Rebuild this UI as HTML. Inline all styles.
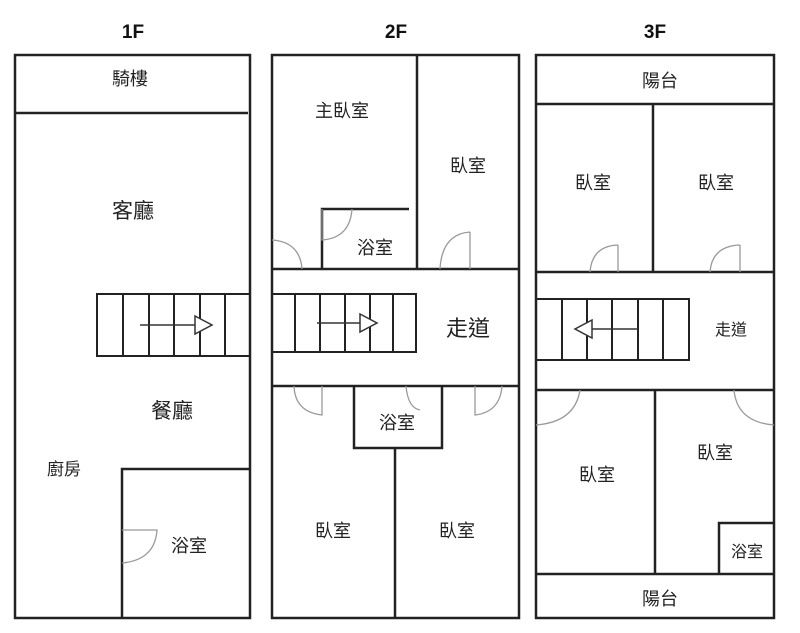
<!DOCTYPE html><html><head><meta charset="utf-8"><style>body{margin:0;background:#fff}svg{display:block}</style></head><body>
<svg width="800" height="633" viewBox="0 0 800 633" xmlns="http://www.w3.org/2000/svg" font-family="Liberation Sans, Noto Sans CJK TC, sans-serif">
<g font-weight="bold" font-size="19" text-anchor="middle" fill="#111">
<text x="133" y="38">1F</text><text x="396" y="38">2F</text><text x="655" y="38">3F</text></g>
<g stroke="#222" stroke-width="2.5" fill="none">
<!-- 1F -->
<rect x="15" y="55" width="235" height="563"/>
<line x1="15" y1="113" x2="248" y2="113"/>
<rect x="97" y="294" width="153" height="62" stroke-width="2"/>
<path d="M123 294V356M149 294V356M174 294V356M200 294V356M225 294V356" stroke-width="2"/>
<path d="M122 618V469H250"/>
<!-- 2F -->
<rect x="272" y="55" width="247" height="563"/>
<path d="M417 55V269M272 269H519M272 386H519"/>
<path d="M322 269V209H409"/>
<rect x="272" y="294" width="144" height="58" stroke-width="2"/>
<path d="M295 294V352M320 294V352M345 294V352M370 294V352M393 294V352" stroke-width="2"/>
<path d="M354 386V448H442V386M395 448V618"/>
<!-- 3F -->
<rect x="536" y="55" width="238" height="563"/>
<path d="M536 104H774M653 104V272M536 272H774M536 390H774M655 390V574M536 574H774"/>
<rect x="536" y="299" width="153" height="61" stroke-width="2"/>
<path d="M562 299V360M587 299V360M612 299V360M638 299V360M663 299V360" stroke-width="2"/>
<path d="M719 574V523H774"/>
</g>
<!-- arrows -->
<g stroke="#333" stroke-width="1.5" fill="#fff">
<path d="M140 325H195"/><path d="M195 316L212 325L195 334Z"/>
<path d="M317 323H360"/><path d="M360 314L377 323L360 332Z"/>
<path d="M638 329H592"/><path d="M592 320L575 329L592 338Z"/>
</g>
<!-- doors -->
<g stroke="#999" stroke-width="1.3" fill="none">
<path d="M122 530H157Q155 560 122 563"/>
<path d="M322 209V240Q350 238 352 209"/>
<path d="M272 240Q300 242 302 269"/>
<path d="M470 232V269M440 269Q442 234 470 232"/>
<path d="M322 386V415Q295 412 294 386"/>
<path d="M475 386V415Q500 412 502 386"/>
<path d="M406 386Q408 408 420 410"/>
<path d="M618 245V272M590 272Q592 246 618 245"/>
<path d="M740 245V272M710 272Q712 246 740 245"/>
<path d="M536 425Q575 422 580 390"/>
<path d="M774 425Q737 422 734 390"/>
</g>
<g font-size="18" text-anchor="middle" fill="#222">
<text x="130" y="85">騎樓</text>
<text x="133" y="218" font-size="21">客廳</text>
<text x="172" y="418" font-size="21">餐廳</text>
<text x="64" y="475" font-size="17">廚房</text>
<text x="189" y="552">浴室</text>
<text x="342" y="117">主臥室</text>
<text x="468" y="172">臥室</text>
<text x="375" y="254">浴室</text>
<text x="468" y="336" font-size="22">走道</text>
<text x="397" y="429">浴室</text>
<text x="333" y="537">臥室</text>
<text x="457" y="537">臥室</text>
<text x="660" y="87">陽台</text>
<text x="593" y="189">臥室</text>
<text x="716" y="189">臥室</text>
<text x="731" y="335" font-size="16">走道</text>
<text x="597" y="481">臥室</text>
<text x="715" y="459">臥室</text>
<text x="747" y="557" font-size="16">浴室</text>
<text x="660" y="605">陽台</text>
</g>
</svg></body></html>
